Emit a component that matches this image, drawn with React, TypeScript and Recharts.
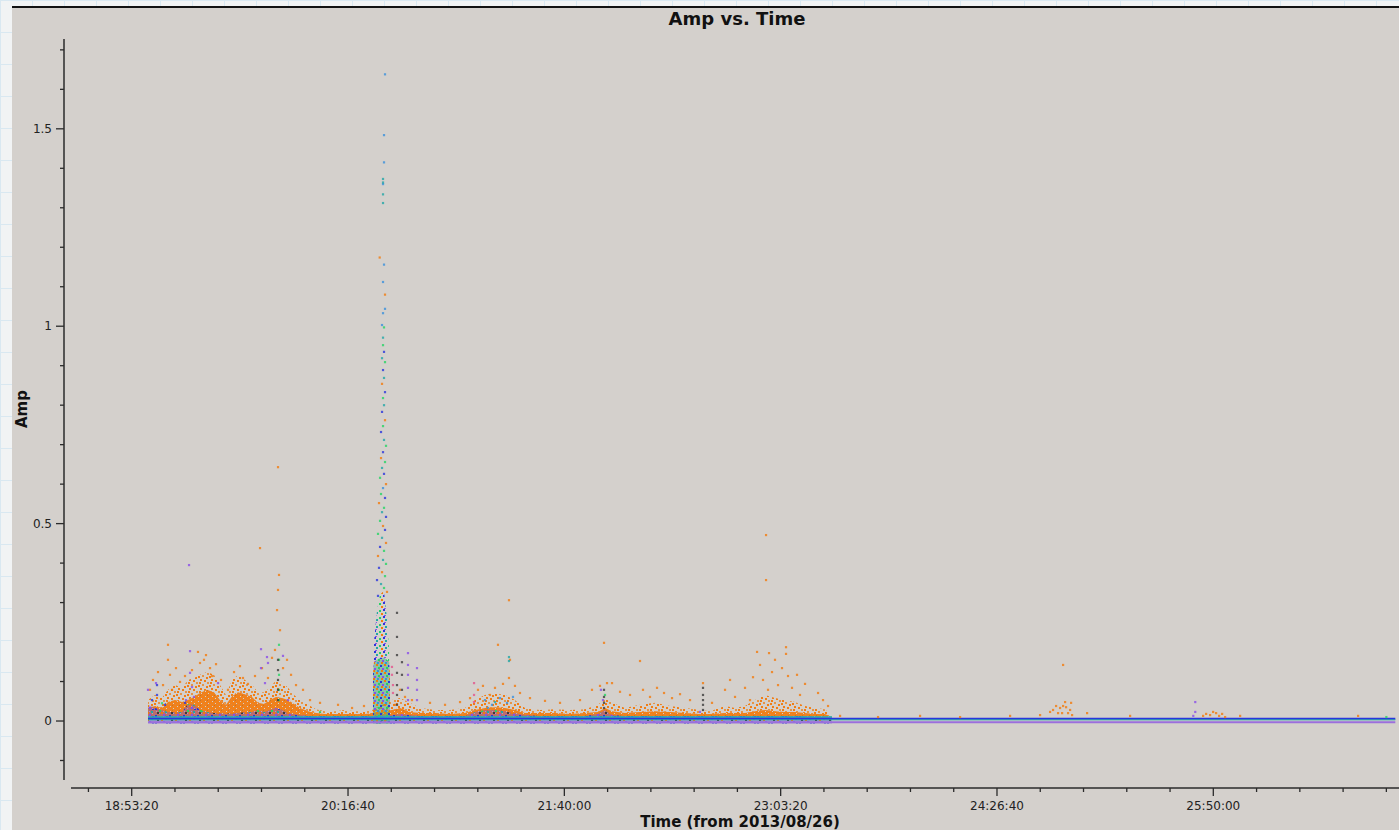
import React from 'react';
import { ComposedChart, XAxis, YAxis, Area, Scatter, ReferenceLine } from 'recharts';

// Times are seconds from 2013/08/26 00:00; amplitudes in Jy-like units.

// Dense band grid (time samples) and the envelopes read along it
const bandTimes = [
  68377, 68539, 68700, 68839, 69001, 69163, 69301, 69440, 69579, 69740, 69902, 70041,
  70180, 70318, 70457, 70619, 70781, 70919, 71058, 71197, 71335, 71474, 71613, 71752,
  71890, 72075, 72260, 72468, 72699, 72930, 73161, 73392, 73554, 74016, 74201, 74432,
  74664, 75010, 75357, 75703, 75934, 76165, 76397, 76628, 76859, 77090, 77437, 77784,
  78131, 78477, 78778, 78940, 79102, 79402, 79749, 80096, 80443, 80789, 81136, 81367,
  81714, 81945, 82176, 82407, 82638, 82869, 83101, 83332, 83563, 83794, 84025, 84187,
];
const orangeCoreTop = [
  0.033, 0.038, 0.033, 0.048, 0.053, 0.048, 0.053, 0.061, 0.071, 0.079, 0.073, 0.053,
  0.041, 0.063, 0.073, 0.068, 0.061, 0.046, 0.043, 0.053, 0.061, 0.058, 0.053, 0.043,
  0.033, 0.025, 0.020, 0.018, 0.018, 0.018, 0.018, 0.018, 0.020, 0.028, 0.033, 0.023,
  0.020, 0.020, 0.018, 0.020, 0.028, 0.033, 0.035, 0.033, 0.028, 0.020, 0.020, 0.020,
  0.018, 0.020, 0.023, 0.033, 0.025, 0.020, 0.023, 0.025, 0.023, 0.020, 0.018, 0.018,
  0.020, 0.020, 0.020, 0.025, 0.028, 0.025, 0.023, 0.023, 0.020, 0.018, 0.018, 0.010,
];
const orangeHaloTop = [
  0.053, 0.066, 0.058, 0.079, 0.091, 0.084, 0.104, 0.109, 0.117, 0.124, 0.117, 0.091,
  0.066, 0.104, 0.117, 0.104, 0.091, 0.073, 0.073, 0.084, 0.104, 0.099, 0.084, 0.066,
  0.053, 0.041, 0.030, 0.025, 0.025, 0.028, 0.025, 0.025, 0.028, 0.053, 0.058, 0.046,
  0.033, 0.028, 0.028, 0.033, 0.053, 0.066, 0.071, 0.066, 0.053, 0.033, 0.028, 0.030,
  0.028, 0.030, 0.041, 0.058, 0.046, 0.033, 0.041, 0.046, 0.038, 0.033, 0.028, 0.025,
  0.038, 0.033, 0.038, 0.053, 0.066, 0.058, 0.053, 0.048, 0.038, 0.033, 0.030, 0.010,
];
const mixedTop = [
  0.041, 0.033, 0.028, 0.023, 0.023, 0.023, 0.043, 0.041, 0.028, 0.023, 0.020, 0.020,
  0.018, 0.020, 0.020, 0.023, 0.023, 0.028, 0.023, 0.028, 0.033, 0.028, 0.020, 0.018,
  0.015, 0.013, 0.013, 0.013, 0.013, 0.013, 0.013, 0.013, 0.013, 0.015, 0.018, 0.015,
  0.013, 0.013, 0.013, 0.013, 0.023, 0.028, 0.028, 0.025, 0.020, 0.015, 0.013, 0.013,
  0.013, 0.013, 0.018, 0.028, 0.015, 0.013, 0.013, 0.013, 0.013, 0.013, 0.013, 0.013,
  0.013, 0.013, 0.013, 0.013, 0.013, 0.013, 0.013, 0.013, 0.013, 0.010, 0.010, 0.008,
];
const orangeFloor = 0.008;
const mixedFloor = -0.006;

// Flare column around 20:30
const spikeTimes = [73577, 73600, 73670, 73740, 73830, 73900, 73950, 73970];
const spikeBlockTop = [0.12, 0.15, 0.155, 0.16, 0.16, 0.155, 0.15, 0.12];
const spikeColumnTop: (number | null)[] = [null, 0.2, 0.28, 0.32, 0.33, 0.26, 0.18, null];

// Per-baseline flat levels
const baseStart = 68377;
const baseEnd = 97207;
const denseEnd = 84187;
const blueLevel = 0.006;
const tealLevel = 0.003;
const purpleLevel = -0.003;
const cyanLevel = 0.01;

// Individual visibilities [time, amp]
const orangePoints: [number, number][] = [
  [68423, 0.079], [68492, 0.104], [68608, 0.124], [68724, 0.091], [68839, 0.193], [68839, 0.155],
  [68885, 0.117], [68932, 0.079], [69024, 0.134], [69117, 0.099], [69232, 0.114], [69394, 0.129],
  [69532, 0.175], [69579, 0.147], [69671, 0.155], [69717, 0.167], [69810, 0.134], [69856, 0.114],
  [69949, 0.144], [70064, 0.104], [70226, 0.079], [70365, 0.124], [70503, 0.139], [70572, 0.109],
  [70688, 0.094], [70850, 0.114], [70966, 0.438], [71012, 0.134], [71150, 0.109], [71243, 0.16],
  [71312, 0.18], [71382, 0.643], [71382, 0.332], [71405, 0.37], [71359, 0.281], [71428, 0.23],
  [71498, 0.134], [71590, 0.155], [71683, 0.117], [71798, 0.091], [71960, 0.079], [72122, 0.053],
  [72353, 0.046], [72769, 0.041], [73093, 0.033], [73369, 0.038],
  [74085, 0.041], [74201, 0.079], [74317, 0.061], [74478, 0.053], [74895, 0.046], [75242, 0.041],
  [75589, 0.048], [75820, 0.058], [76004, 0.079], [76119, 0.089], [76281, 0.066], [76397, 0.084],
  [76466, 0.193], [76582, 0.094], [76720, 0.109], [76744, 0.155], [76859, 0.089], [76720, 0.306],
  [76975, 0.071], [77206, 0.058], [77553, 0.051], [77900, 0.046], [78362, 0.053], [78639, 0.079],
  [78824, 0.089], [78917, 0.198], [78986, 0.096], [79102, 0.096], [79287, 0.074], [79518, 0.066],
  [79749, 0.152], [79818, 0.079], [79980, 0.061], [80142, 0.084], [80304, 0.071], [80489, 0.058],
  [80674, 0.068], [80905, 0.053], [81205, 0.096], [81413, 0.046], [81714, 0.079], [81830, 0.104],
  [81945, 0.061], [82176, 0.084], [82292, 0.053], [82361, 0.111], [82454, 0.175], [82523, 0.142],
  [82592, 0.104], [82662, 0.471], [82662, 0.357], [82708, 0.079], [82731, 0.172], [82800, 0.124],
  [82869, 0.155], [82939, 0.091], [83031, 0.134], [83124, 0.17], [83124, 0.187], [83170, 0.114],
  [83262, 0.084], [83378, 0.117], [83447, 0.066], [83563, 0.094], [83864, 0.071], [83979, 0.053],
  [84095, 0.038],
  [84373, 0.013], [85251, 0.01], [86222, 0.013], [87147, 0.01], [88303, 0.013], [88996, 0.015],
  [89227, 0.023], [89296, 0.028], [89366, 0.038], [89412, 0.02], [89458, 0.033], [89505, 0.02],
  [89528, 0.142], [89528, 0.038], [89574, 0.048], [89597, 0.035], [89643, 0.02], [89690, 0.028],
  [89713, 0.046], [89736, 0.015], [90083, 0.02], [91077, 0.013], [92764, 0.013], [92834, 0.018],
  [92926, 0.015], [92996, 0.023], [93065, 0.02], [93134, 0.013], [93204, 0.018], [93273, 0.01],
  [93620, 0.013], [96347, 0.013],
  [73732, 1.174], [73855, 1.08], [73786, 0.854], [73855, 0.762], [73763, 0.666], [73878, 0.6],
  [73716, 0.552], [73809, 0.494], [73878, 0.451], [73693, 0.418], [73786, 0.377], [73901, 0.327],
];
const purplePoints: [number, number][] = [
  [68377, 0.079], [68562, 0.096], [69348, 0.177], [69348, 0.122], [69394, 0.086], [69255, 0.053],
  [69440, 0.061], [69995, 0.096], [70989, 0.182], [70989, 0.134], [71081, 0.096], [71127, 0.162],
  [71150, 0.147], [71497, 0.165], [71613, 0.053], [69325, 0.395], [74386, 0.172], [74386, 0.142],
  [74386, 0.117], [74386, 0.084], [74386, 0.053], [74594, 0.134], [74594, 0.104], [74594, 0.079],
  [74594, 0.053], [78846, 0.079], [78893, 0.053], [81135, 0.023], [92583, 0.048], [92583, 0.023],
  [92537, 0.013],
];
const bluePoints: [number, number][] = [
  [68585, 0.091], [68585, 0.066], [68469, 0.053], [68770, 0.041], [69232, 0.046],
  [73832, 0.935], [73809, 0.889], [73855, 0.833], [73786, 0.783], [73763, 0.732], [73809, 0.681],
  [73832, 0.626], [73855, 0.565], [73878, 0.517], [73855, 0.484], [73740, 0.441], [73716, 0.388],
  [73670, 0.357], [73693, 0.317],
];
const lightBluePoints: [number, number][] = [
  [73855, 1.638], [73832, 1.484], [73832, 1.415], [73809, 1.36], [73832, 1.156], [73809, 1.112],
  [73855, 1.044], [73809, 1.033], [73786, 1.003], [73809, 0.59],
  [76165, 0.053], [76328, 0.041], [76513, 0.058], [76675, 0.046], [76813, 0.061], [76234, 0.033],
];
const tealPoints: [number, number][] = [
  [73809, 1.373], [73809, 1.364], [73809, 1.334], [73809, 1.312], [73809, 0.971], [73786, 0.919],
  [73832, 0.869], [73832, 0.8], [73832, 0.712], [73786, 0.641], [73786, 0.529], [73786, 0.464],
  [73809, 0.408], [73763, 0.347], [76720, 0.162], [76720, 0.152], [76397, 0.048],
];
const greenPoints: [number, number][] = [
  [73832, 0.997], [73809, 0.952], [73855, 0.909], [73809, 0.818], [73809, 0.747], [73878, 0.697],
  [73855, 0.656], [73740, 0.616], [73763, 0.575], [73832, 0.54], [73740, 0.507], [73693, 0.474],
  [73832, 0.431], [73878, 0.398], [73855, 0.367], [73832, 0.337],
  [71405, 0.193], [71405, 0.155], [71405, 0.117], [71405, 0.079], [71405, 0.053], [72353, 0.023],
  [78940, 0.066], [97000, 0.01], [68700, 0.045], [69600, 0.025],
];
const pinkPoints: [number, number][] = [
  [75913, 0.096], [75913, 0.066], [75913, 0.048], [74016, 0.137], [74016, 0.117], [74039, 0.091],
  [74039, 0.071],
];
const darkPoints: [number, number][] = [
  [74132, 0.274], [74132, 0.213], [74132, 0.167], [74132, 0.122], [74132, 0.091], [74132, 0.066],
  [74132, 0.041], [74247, 0.149], [74247, 0.117], [74247, 0.079], [71382, 0.155], [71382, 0.129],
  [71382, 0.104], [71382, 0.079], [71382, 0.053], [78917, 0.079], [78917, 0.061], [78917, 0.046],
  [78917, 0.033], [81205, 0.084], [81205, 0.066], [81205, 0.053], [81205, 0.041], [81205, 0.028],
];

// Axis ticks
const xTicks = [
  67000, 68000, 69000, 70000, 71000, 72000, 73000, 74000, 75000, 76000, 77000, 78000, 79000,
  80000, 81000, 82000, 83000, 84000, 85000, 86000, 87000, 88000, 89000, 90000, 91000, 92000,
  93000, 94000, 95000, 96000, 97000,
];
const xLabelTicks = [68000, 73000, 78000, 83000, 88000, 93000];
const yTicks = [-0.1, 0, 0.1, 0.2, 0.3, 0.4, 0.5, 0.6, 0.7, 0.8, 0.9, 1, 1.1, 1.2, 1.3, 1.4, 1.5, 1.6, 1.7];
const yLabelTicks = [0, 0.5, 1, 1.5];

const xDomain: [number, number] = [66597, 97292];
const yDomain: [number, number] = [-0.1494, 1.7275];

const C = {
  orange: '#f27a0c',
  orangeSoft: '#e8913e',
  purple: '#8a4ee8',
  blue: '#2a36dc',
  lightBlue: '#3a90dc',
  teal: '#22a6a6',
  green: '#26d464',
  pink: '#e2558c',
  dark: '#3c3c3c',
  cyan: '#19b5c0',
  lilac: '#9b6fdc',
  axis: '#2b2b2b',
  panel: '#d4d0cc',
};

type Row = {
  t: number;
  core?: [number, number];
  halo?: [number, number];
  mixed?: [number, number];
  block?: [number, number];
  column?: [number, number];
};

const rows: Row[] = [
  ...bandTimes.map((t, i) => ({
    t,
    core: [orangeFloor, orangeCoreTop[i]] as [number, number],
    halo: [orangeCoreTop[i], orangeHaloTop[i]] as [number, number],
    mixed: [mixedFloor, mixedTop[i]] as [number, number],
  })),
  ...spikeTimes.map((t, i) => {
    const top = spikeColumnTop[i];
    return {
      t,
      block: [mixedFloor, spikeBlockTop[i]] as [number, number],
      column: top == null ? undefined : ([spikeBlockTop[i], top] as [number, number]),
    };
  }),
].sort((a, b) => a.t - b.t);

const toXY = (pts: [number, number][]) => pts.map(([t, a]) => ({ t, a }));

const fmtTime = (v: number) => {
  const h = Math.floor(v / 3600);
  const m = Math.floor((v % 3600) / 60);
  const s = Math.round(v % 60);
  return `${h}:${String(m).padStart(2, '0')}:${String(s).padStart(2, '0')}`;
};

const isYLabel = (v: number) => yLabelTicks.some((l) => Math.abs(l - v) < 1e-9);

const YTick = (p: any) => {
  const v = p.payload.value as number;
  const major = isYLabel(v);
  return (
    <g>
      <line x1={p.x} x2={p.x - (major ? 8 : 4)} y1={p.y} y2={p.y} stroke={C.axis} strokeWidth={1.3} />
      {major && (
        <text x={p.x - 12} y={p.y + 4} textAnchor="end" fontSize={12} fill="#222" fontFamily="DejaVu Sans">
          {String(v)}
        </text>
      )}
    </g>
  );
};

const XTick = (p: any) => {
  const v = p.payload.value as number;
  const major = xLabelTicks.includes(v);
  return (
    <g>
      <line x1={p.x} x2={p.x} y1={p.y} y2={p.y + (major ? 8 : 4)} stroke={C.axis} strokeWidth={1.3} />
      {major && (
        <text x={p.x} y={p.y + 22} textAnchor="middle" fontSize={12} fill="#222" fontFamily="DejaVu Sans">
          {fmtTime(v)}
        </text>
      )}
    </g>
  );
};

const dot = (color: string) => (p: any) =>
  <rect x={p.cx - 1.1} y={p.cy - 1.1} width={2.2} height={2.2} fill={color} fillOpacity={0.8} />;

const scatterSets: { name: string; pts: [number, number][]; color: string }[] = [
  { name: 'orange', pts: orangePoints, color: C.orange },
  { name: 'purple', pts: purplePoints, color: C.purple },
  { name: 'blue', pts: bluePoints, color: C.blue },
  { name: 'lightBlue', pts: lightBluePoints, color: C.lightBlue },
  { name: 'teal', pts: tealPoints, color: C.teal },
  { name: 'green', pts: greenPoints, color: C.green },
  { name: 'pink', pts: pinkPoints, color: C.pink },
  { name: 'dark', pts: darkPoints, color: C.dark },
];

export default function App() {
  return (
    <div
      style={{
        position: 'absolute',
        left: 0,
        top: 0,
        width: 1399,
        height: 830,
        overflow: 'hidden',
        backgroundColor: '#f1f3f4',
        backgroundImage:
          'linear-gradient(to right, #d9e8f1 1px, transparent 1px), linear-gradient(to bottom, #d9e8f1 1px, transparent 1px)',
        backgroundSize: '32px 32px',
        fontFamily: 'DejaVu Sans',
      }}
    >
      <div
        style={{
          position: 'absolute',
          left: 12,
          top: 6,
          right: 0,
          bottom: 0,
          background: C.panel,
          borderTop: '2px solid #111',
        }}
      />
      <div style={{ position: 'absolute', left: 0, top: 0 }}>
        <ComposedChart width={1399} height={830} data={rows} margin={{ top: 39, right: 0, bottom: 0, left: 0 }}>
          <defs>
            {/* grainy orange for the sparse fringe above the dense band */}
            <pattern id="speckle" patternUnits="userSpaceOnUse" width={11} height={9}>
              <rect x={0} y={1} width={2} height={2} fill={C.orange} />
              <rect x={4} y={0} width={2} height={2} fill={C.orangeSoft} />
              <rect x={8} y={2} width={2} height={2} fill={C.orange} />
              <rect x={2} y={4} width={2} height={2} fill={C.orange} />
              <rect x={6} y={5} width={2} height={2} fill={C.orange} />
              <rect x={9} y={7} width={2} height={2} fill={C.orangeSoft} />
              <rect x={1} y={7} width={2} height={2} fill={C.orange} />
            </pattern>
            {/* dense orange core with small gaps */}
            <pattern id="orangeDense" patternUnits="userSpaceOnUse" width={7} height={5}>
              <rect x={0} y={0} width={7} height={5} fill={C.orange} />
              <rect x={2} y={1} width={1} height={1} fill={C.panel} />
              <rect x={5} y={3} width={1} height={1} fill={C.panel} />
              <rect x={0} y={4} width={1} height={1} fill="#d9803a" />
              <rect x={4} y={0} width={1} height={1} fill="#c86a18" />
            </pattern>
            <pattern id="mixBand" patternUnits="userSpaceOnUse" width={14} height={7}>
              <rect x={0} y={0} width={14} height={7} fill="#7656d0" fillOpacity={0.45} />
              <rect x={1} y={1} width={2} height={2} fill={C.blue} />
              <rect x={5} y={3} width={2} height={2} fill={C.green} />
              <rect x={9} y={0} width={2} height={2} fill={C.purple} />
              <rect x={11} y={4} width={2} height={2} fill={C.teal} />
              <rect x={3} y={5} width={2} height={2} fill={C.dark} />
              <rect x={7} y={5} width={2} height={2} fill={C.orange} />
              <rect x={12} y={2} width={2} height={1} fill={C.blue} />
            </pattern>
            <pattern id="spikeDense" patternUnits="userSpaceOnUse" width={8} height={8}>
              <rect x={0} y={0} width={8} height={8} fill="#46b487" fillOpacity={0.55} />
              <rect x={0} y={0} width={2} height={2} fill={C.orange} />
              <rect x={4} y={1} width={2} height={2} fill={C.blue} />
              <rect x={2} y={3} width={2} height={2} fill={C.green} />
              <rect x={6} y={4} width={2} height={2} fill={C.purple} />
              <rect x={1} y={6} width={2} height={2} fill={C.lightBlue} />
              <rect x={5} y={6} width={2} height={2} fill={C.orange} />
              <rect x={3} y={5} width={1} height={1} fill={C.pink} />
            </pattern>
            <pattern id="spikeSparse" patternUnits="userSpaceOnUse" width={9} height={7}>
              <rect x={1} y={1} width={2} height={2} fill={C.green} />
              <rect x={5} y={0} width={2} height={2} fill={C.blue} />
              <rect x={3} y={4} width={2} height={2} fill={C.orange} />
              <rect x={7} y={3} width={2} height={2} fill={C.teal} />
              <rect x={6} y={6} width={2} height={1} fill={C.purple} />
            </pattern>
          </defs>
          <XAxis
            dataKey="t"
            type="number"
            domain={xDomain}
            allowDataOverflow
            ticks={xTicks}
            interval={0}
            height={42}
            padding={{ left: 7, right: 0 }}
            tickSize={0}
            tickMargin={0}
            tickLine={false}
            axisLine={{ stroke: C.axis, strokeWidth: 1.5, strokeDasharray: '0 7 3000' }}
            tick={<XTick />}
          />
          <YAxis
            type="number"
            domain={yDomain}
            allowDataOverflow
            ticks={yTicks}
            interval={0}
            width={64}
            padding={{ top: 0, bottom: 8 }}
            tickSize={0}
            tickMargin={0}
            tickLine={false}
            axisLine={{ stroke: C.axis, strokeWidth: 1.5, strokeDasharray: '741 300' }}
            tick={<YTick />}
          />
          <Area dataKey="halo" type="linear" stroke="none" fill="url(#speckle)" fillOpacity={0.95}
            connectNulls isAnimationActive={false} dot={false} activeDot={false} />
          <Area dataKey="core" type="linear" stroke="none" fill="url(#orangeDense)" fillOpacity={0.92}
            connectNulls isAnimationActive={false} dot={false} activeDot={false} />
          <Area dataKey="mixed" type="linear" stroke="none" fill="url(#mixBand)" fillOpacity={1}
            connectNulls isAnimationActive={false} dot={false} activeDot={false} />
          <Area dataKey="column" type="linear" stroke="none" fill="url(#spikeSparse)" fillOpacity={1}
            isAnimationActive={false} dot={false} activeDot={false} />
          <Area dataKey="block" type="linear" stroke="none" fill="url(#spikeDense)" fillOpacity={1}
            isAnimationActive={false} dot={false} activeDot={false} />
          {scatterSets.map((s) => (
            <Scatter key={s.name} name={s.name} data={toXY(s.pts)} dataKey="a"
              shape={dot(s.color)} isAnimationActive={false} />
          ))}
          <ReferenceLine segment={[{ x: baseStart, y: cyanLevel }, { x: denseEnd, y: cyanLevel }]}
            stroke={C.cyan} strokeWidth={1.5} ifOverflow="visible" />
          <ReferenceLine segment={[{ x: baseStart, y: blueLevel }, { x: baseEnd, y: blueLevel }]}
            stroke={C.blue} strokeWidth={2} ifOverflow="visible" />
          <ReferenceLine segment={[{ x: baseStart, y: tealLevel }, { x: baseEnd, y: tealLevel }]}
            stroke={C.teal} strokeWidth={1} ifOverflow="visible" />
          <ReferenceLine segment={[{ x: baseStart, y: purpleLevel }, { x: baseEnd, y: purpleLevel }]}
            stroke={C.lilac} strokeWidth={2} ifOverflow="visible" />
        </ComposedChart>
      </div>
      <svg width={1399} height={830} style={{ position: 'absolute', left: 0, top: 0, pointerEvents: 'none' }}>
        <text x={737} y={25} textAnchor="middle" fontSize={18} fontWeight="bold" fill="#111" fontFamily="DejaVu Sans">
          Amp vs. Time
        </text>
        <text x={740} y={827} textAnchor="middle" fontSize={15} fontWeight="bold" fill="#111" fontFamily="DejaVu Sans">
          Time (from 2013/08/26)
        </text>
        <text transform="translate(27,409) rotate(-90)" textAnchor="middle" fontSize={15} fontWeight="bold"
          fill="#111" fontFamily="DejaVu Sans">
          Amp
        </text>
      </svg>
    </div>
  );
}
